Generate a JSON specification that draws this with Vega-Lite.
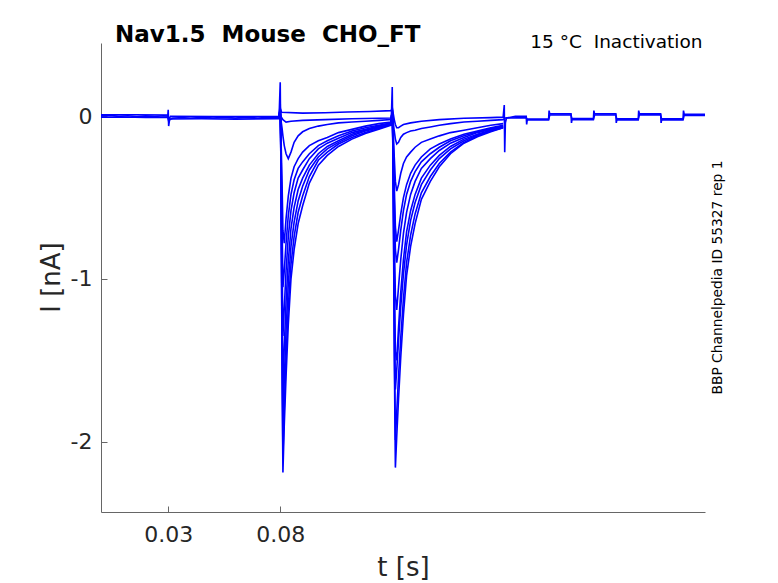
{
  "$schema": "https://vega.github.io/schema/vega-lite/v6.json",
  "autosize": "none",
  "width": 604,
  "height": 469,
  "padding": {"left": 101, "top": 43, "right": 73, "bottom": 71},
  "background": "white",
  "title": {
    "text": "Nav1.5\u00a0 Mouse\u00a0 CHO_FT",
    "anchor": "start",
    "frame": "group",
    "dx": 14,
    "offset": -33,
    "baseline": "alphabetic",
    "font": "DejaVu Sans",
    "fontSize": 23,
    "fontWeight": "bold",
    "color": "black"
  },
  "data": {
    "values": [
      {"s": "s1", "t": 0.0, "i": 0.003}, {"s": "s1", "t": 0.004, "i": 0.006}, {"s": "s1", "t": 0.008, "i": 0.0},
      {"s": "s1", "t": 0.012, "i": 0.004}, {"s": "s1", "t": 0.016, "i": -0.002}, {"s": "s1", "t": 0.02, "i": 0.003},
      {"s": "s1", "t": 0.024, "i": 0.0}, {"s": "s1", "t": 0.028, "i": 0.004}, {"s": "s1", "t": 0.0298, "i": 0.002},
      {"s": "s1", "t": 0.03, "i": 0.04}, {"s": "s1", "t": 0.0302, "i": -0.06}, {"s": "s1", "t": 0.0306, "i": -0.02},
      {"s": "s1", "t": 0.032, "i": -0.012}, {"s": "s1", "t": 0.036, "i": -0.008}, {"s": "s1", "t": 0.04, "i": -0.012},
      {"s": "s1", "t": 0.045, "i": -0.006}, {"s": "s1", "t": 0.05, "i": -0.01}, {"s": "s1", "t": 0.055, "i": -0.006},
      {"s": "s1", "t": 0.06, "i": -0.011}, {"s": "s1", "t": 0.065, "i": -0.005}, {"s": "s1", "t": 0.07, "i": -0.01},
      {"s": "s1", "t": 0.075, "i": -0.006}, {"s": "s1", "t": 0.0795, "i": -0.008},
      {"s": "s1", "t": 0.08, "i": 0.05}, {"s": "s1", "t": 0.0806, "i": 0.025}, {"s": "s1", "t": 0.09, "i": 0.02},
      {"s": "s1", "t": 0.1, "i": 0.022}, {"s": "s1", "t": 0.11, "i": 0.027}, {"s": "s1", "t": 0.12, "i": 0.03},
      {"s": "s1", "t": 0.1295, "i": 0.035},
      {"s": "s1", "t": 0.13, "i": 0.05}, {"s": "s1", "t": 0.1304, "i": 0.02}, {"s": "s1", "t": 0.1309, "i": -0.02},
      {"s": "s1", "t": 0.1314, "i": -0.05}, {"s": "s1", "t": 0.132, "i": -0.07}, {"s": "s1", "t": 0.1328, "i": -0.07},
      {"s": "s1", "t": 0.1338, "i": -0.06}, {"s": "s1", "t": 0.135, "i": -0.05}, {"s": "s1", "t": 0.1382, "i": -0.04},
      {"s": "s1", "t": 0.143, "i": -0.03}, {"s": "s1", "t": 0.151, "i": -0.02}, {"s": "s1", "t": 0.162, "i": -0.012},
      {"s": "s1", "t": 0.174, "i": -0.008}, {"s": "s1", "t": 0.1795, "i": -0.005},
      {"s": "s1", "t": 0.18, "i": 0.07}, {"s": "s1", "t": 0.1802, "i": -0.22}, {"s": "s1", "t": 0.1805, "i": -0.04},
      {"s": "s1", "t": 0.181, "i": -0.01}, {"s": "s1", "t": 0.185, "i": 0.0}, {"s": "s1", "t": 0.1898, "i": 0.0},
      {"s": "s1", "t": 0.19, "i": -0.05}, {"s": "s1", "t": 0.1903, "i": -0.016}, {"s": "s1", "t": 0.1998, "i": -0.016},
      {"s": "s1", "t": 0.2, "i": 0.035}, {"s": "s1", "t": 0.2003, "i": 0.015}, {"s": "s1", "t": 0.2098, "i": 0.015},
      {"s": "s1", "t": 0.21, "i": -0.04}, {"s": "s1", "t": 0.2103, "i": -0.013}, {"s": "s1", "t": 0.2198, "i": -0.013},
      {"s": "s1", "t": 0.22, "i": 0.035}, {"s": "s1", "t": 0.2203, "i": 0.015}, {"s": "s1", "t": 0.2298, "i": 0.015},
      {"s": "s1", "t": 0.23, "i": -0.04}, {"s": "s1", "t": 0.2303, "i": -0.015}, {"s": "s1", "t": 0.2398, "i": -0.015},
      {"s": "s1", "t": 0.24, "i": 0.035}, {"s": "s1", "t": 0.2403, "i": 0.016}, {"s": "s1", "t": 0.2498, "i": 0.016},
      {"s": "s1", "t": 0.25, "i": -0.04}, {"s": "s1", "t": 0.2503, "i": -0.015}, {"s": "s1", "t": 0.2598, "i": -0.015},
      {"s": "s1", "t": 0.26, "i": 0.035}, {"s": "s1", "t": 0.2603, "i": 0.013}, {"s": "s1", "t": 0.2696, "i": 0.013},

      {"s": "s2", "t": 0.0, "i": -0.006}, {"s": "s2", "t": 0.01, "i": -0.004}, {"s": "s2", "t": 0.02, "i": -0.007},
      {"s": "s2", "t": 0.0298, "i": -0.005}, {"s": "s2", "t": 0.0302, "i": -0.03}, {"s": "s2", "t": 0.031, "i": -0.016},
      {"s": "s2", "t": 0.045, "i": -0.015}, {"s": "s2", "t": 0.06, "i": -0.017}, {"s": "s2", "t": 0.0795, "i": -0.014},
      {"s": "s2", "t": 0.08, "i": 0.03}, {"s": "s2", "t": 0.0803, "i": 0.0}, {"s": "s2", "t": 0.0812, "i": -0.02},
      {"s": "s2", "t": 0.0826, "i": -0.035}, {"s": "s2", "t": 0.0848, "i": -0.03}, {"s": "s2", "t": 0.09, "i": -0.025},
      {"s": "s2", "t": 0.1, "i": -0.02}, {"s": "s2", "t": 0.112, "i": -0.015}, {"s": "s2", "t": 0.1295, "i": -0.01},
      {"s": "s2", "t": 0.13, "i": 0.03}, {"s": "s2", "t": 0.1304, "i": -0.03}, {"s": "s2", "t": 0.1309, "i": -0.09},
      {"s": "s2", "t": 0.1314, "i": -0.14}, {"s": "s2", "t": 0.132, "i": -0.17}, {"s": "s2", "t": 0.1328, "i": -0.16},
      {"s": "s2", "t": 0.1338, "i": -0.13}, {"s": "s2", "t": 0.135, "i": -0.11}, {"s": "s2", "t": 0.1364, "i": -0.1},
      {"s": "s2", "t": 0.1382, "i": -0.09}, {"s": "s2", "t": 0.1402, "i": -0.085}, {"s": "s2", "t": 0.143, "i": -0.075},
      {"s": "s2", "t": 0.147, "i": -0.065}, {"s": "s2", "t": 0.151, "i": -0.055}, {"s": "s2", "t": 0.156, "i": -0.045},
      {"s": "s2", "t": 0.162, "i": -0.035}, {"s": "s2", "t": 0.168, "i": -0.03}, {"s": "s2", "t": 0.174, "i": -0.025},
      {"s": "s2", "t": 0.1795, "i": -0.02}, {"s": "s2", "t": 0.1805, "i": -0.01}, {"s": "s2", "t": 0.1898, "i": -0.008},
      {"s": "s2", "t": 0.1903, "i": -0.022}, {"s": "s2", "t": 0.1998, "i": -0.022}, {"s": "s2", "t": 0.2003, "i": 0.008},
      {"s": "s2", "t": 0.2098, "i": 0.008}, {"s": "s2", "t": 0.2103, "i": -0.02}, {"s": "s2", "t": 0.2198, "i": -0.02},
      {"s": "s2", "t": 0.2203, "i": 0.008}, {"s": "s2", "t": 0.2298, "i": 0.008}, {"s": "s2", "t": 0.2303, "i": -0.022},
      {"s": "s2", "t": 0.2398, "i": -0.022}, {"s": "s2", "t": 0.2403, "i": 0.009}, {"s": "s2", "t": 0.2498, "i": 0.009},
      {"s": "s2", "t": 0.2503, "i": -0.022}, {"s": "s2", "t": 0.2598, "i": -0.022}, {"s": "s2", "t": 0.2603, "i": 0.006},
      {"s": "s2", "t": 0.2696, "i": 0.006},

      {"s": "s3", "t": 0.0, "i": 0.009}, {"s": "s3", "t": 0.015, "i": 0.01}, {"s": "s3", "t": 0.0298, "i": 0.008},
      {"s": "s3", "t": 0.0302, "i": -0.02}, {"s": "s3", "t": 0.031, "i": 0.0}, {"s": "s3", "t": 0.05, "i": -0.002},
      {"s": "s3", "t": 0.0795, "i": 0.0},
      {"s": "s3", "t": 0.08, "i": 0.03}, {"s": "s3", "t": 0.0803, "i": -0.02}, {"s": "s3", "t": 0.0808, "i": -0.07},
      {"s": "s3", "t": 0.0812, "i": -0.12}, {"s": "s3", "t": 0.0818, "i": -0.18}, {"s": "s3", "t": 0.0826, "i": -0.23},
      {"s": "s3", "t": 0.0836, "i": -0.26}, {"s": "s3", "t": 0.0848, "i": -0.22}, {"s": "s3", "t": 0.0862, "i": -0.16},
      {"s": "s3", "t": 0.088, "i": -0.12}, {"s": "s3", "t": 0.09, "i": -0.095}, {"s": "s3", "t": 0.093, "i": -0.075},
      {"s": "s3", "t": 0.097, "i": -0.06}, {"s": "s3", "t": 0.101, "i": -0.05}, {"s": "s3", "t": 0.106, "i": -0.04},
      {"s": "s3", "t": 0.112, "i": -0.035}, {"s": "s3", "t": 0.118, "i": -0.03}, {"s": "s3", "t": 0.124, "i": -0.025},
      {"s": "s3", "t": 0.1295, "i": -0.02},
      {"s": "s3", "t": 0.13, "i": 0.03}, {"s": "s3", "t": 0.1304, "i": -0.08}, {"s": "s3", "t": 0.1309, "i": -0.25},
      {"s": "s3", "t": 0.1314, "i": -0.4}, {"s": "s3", "t": 0.132, "i": -0.46}, {"s": "s3", "t": 0.1328, "i": -0.42},
      {"s": "s3", "t": 0.1338, "i": -0.35}, {"s": "s3", "t": 0.135, "i": -0.29}, {"s": "s3", "t": 0.1364, "i": -0.25},
      {"s": "s3", "t": 0.1382, "i": -0.22}, {"s": "s3", "t": 0.1402, "i": -0.19}, {"s": "s3", "t": 0.143, "i": -0.16},
      {"s": "s3", "t": 0.147, "i": -0.14}, {"s": "s3", "t": 0.151, "i": -0.12}, {"s": "s3", "t": 0.156, "i": -0.1},
      {"s": "s3", "t": 0.162, "i": -0.085}, {"s": "s3", "t": 0.168, "i": -0.07}, {"s": "s3", "t": 0.174, "i": -0.055},
      {"s": "s3", "t": 0.1795, "i": -0.045},

      {"s": "s4", "t": 0.0795, "i": 0.0}, {"s": "s4", "t": 0.08, "i": 0.04}, {"s": "s4", "t": 0.0803, "i": -0.1},
      {"s": "s4", "t": 0.0808, "i": -0.4}, {"s": "s4", "t": 0.0812, "i": -0.7}, {"s": "s4", "t": 0.0818, "i": -0.78},
      {"s": "s4", "t": 0.0826, "i": -0.63}, {"s": "s4", "t": 0.0836, "i": -0.49}, {"s": "s4", "t": 0.0848, "i": -0.38},
      {"s": "s4", "t": 0.0862, "i": -0.31}, {"s": "s4", "t": 0.088, "i": -0.26}, {"s": "s4", "t": 0.09, "i": -0.22},
      {"s": "s4", "t": 0.093, "i": -0.18}, {"s": "s4", "t": 0.097, "i": -0.15}, {"s": "s4", "t": 0.101, "i": -0.13},
      {"s": "s4", "t": 0.106, "i": -0.1}, {"s": "s4", "t": 0.112, "i": -0.08}, {"s": "s4", "t": 0.118, "i": -0.06},
      {"s": "s4", "t": 0.124, "i": -0.045}, {"s": "s4", "t": 0.1295, "i": -0.035},
      {"s": "s4", "t": 0.13, "i": 0.04}, {"s": "s4", "t": 0.1304, "i": -0.12}, {"s": "s4", "t": 0.1309, "i": -0.42},
      {"s": "s4", "t": 0.1314, "i": -0.68}, {"s": "s4", "t": 0.132, "i": -0.77}, {"s": "s4", "t": 0.1328, "i": -0.7},
      {"s": "s4", "t": 0.1338, "i": -0.6}, {"s": "s4", "t": 0.135, "i": -0.5}, {"s": "s4", "t": 0.1364, "i": -0.42},
      {"s": "s4", "t": 0.1382, "i": -0.35}, {"s": "s4", "t": 0.1402, "i": -0.3}, {"s": "s4", "t": 0.143, "i": -0.25},
      {"s": "s4", "t": 0.147, "i": -0.2}, {"s": "s4", "t": 0.151, "i": -0.17}, {"s": "s4", "t": 0.156, "i": -0.14},
      {"s": "s4", "t": 0.162, "i": -0.11}, {"s": "s4", "t": 0.168, "i": -0.09}, {"s": "s4", "t": 0.174, "i": -0.07},
      {"s": "s4", "t": 0.1795, "i": -0.055},

      {"s": "s5", "t": 0.0795, "i": 0.0}, {"s": "s5", "t": 0.08, "i": 0.04}, {"s": "s5", "t": 0.0803, "i": -0.14},
      {"s": "s5", "t": 0.0808, "i": -0.62}, {"s": "s5", "t": 0.0812, "i": -1.05}, {"s": "s5", "t": 0.0818, "i": -0.95},
      {"s": "s5", "t": 0.0826, "i": -0.78}, {"s": "s5", "t": 0.0836, "i": -0.61}, {"s": "s5", "t": 0.0848, "i": -0.48},
      {"s": "s5", "t": 0.0862, "i": -0.39}, {"s": "s5", "t": 0.088, "i": -0.32}, {"s": "s5", "t": 0.09, "i": -0.28},
      {"s": "s5", "t": 0.093, "i": -0.23}, {"s": "s5", "t": 0.097, "i": -0.18}, {"s": "s5", "t": 0.101, "i": -0.15},
      {"s": "s5", "t": 0.106, "i": -0.12}, {"s": "s5", "t": 0.112, "i": -0.09}, {"s": "s5", "t": 0.118, "i": -0.07},
      {"s": "s5", "t": 0.124, "i": -0.055}, {"s": "s5", "t": 0.1295, "i": -0.04},
      {"s": "s5", "t": 0.13, "i": 0.04}, {"s": "s5", "t": 0.1304, "i": -0.15}, {"s": "s5", "t": 0.1309, "i": -0.52},
      {"s": "s5", "t": 0.1314, "i": -0.82}, {"s": "s5", "t": 0.132, "i": -0.9}, {"s": "s5", "t": 0.1328, "i": -0.82},
      {"s": "s5", "t": 0.1338, "i": -0.7}, {"s": "s5", "t": 0.135, "i": -0.58}, {"s": "s5", "t": 0.1364, "i": -0.48},
      {"s": "s5", "t": 0.1382, "i": -0.4}, {"s": "s5", "t": 0.1402, "i": -0.34}, {"s": "s5", "t": 0.143, "i": -0.28},
      {"s": "s5", "t": 0.147, "i": -0.23}, {"s": "s5", "t": 0.151, "i": -0.19}, {"s": "s5", "t": 0.156, "i": -0.15},
      {"s": "s5", "t": 0.162, "i": -0.12}, {"s": "s5", "t": 0.168, "i": -0.095}, {"s": "s5", "t": 0.174, "i": -0.075},
      {"s": "s5", "t": 0.1795, "i": -0.06},

      {"s": "s6", "t": 0.0795, "i": 0.0}, {"s": "s6", "t": 0.08, "i": 0.05}, {"s": "s6", "t": 0.0803, "i": -0.18},
      {"s": "s6", "t": 0.0808, "i": -0.85}, {"s": "s6", "t": 0.0812, "i": -1.35}, {"s": "s6", "t": 0.0818, "i": -1.18},
      {"s": "s6", "t": 0.0826, "i": -0.95}, {"s": "s6", "t": 0.0836, "i": -0.74}, {"s": "s6", "t": 0.0848, "i": -0.58},
      {"s": "s6", "t": 0.0862, "i": -0.47}, {"s": "s6", "t": 0.088, "i": -0.38}, {"s": "s6", "t": 0.09, "i": -0.33},
      {"s": "s6", "t": 0.093, "i": -0.26}, {"s": "s6", "t": 0.097, "i": -0.2}, {"s": "s6", "t": 0.101, "i": -0.165},
      {"s": "s6", "t": 0.106, "i": -0.135}, {"s": "s6", "t": 0.112, "i": -0.1}, {"s": "s6", "t": 0.118, "i": -0.08},
      {"s": "s6", "t": 0.124, "i": -0.06}, {"s": "s6", "t": 0.1295, "i": -0.045},
      {"s": "s6", "t": 0.13, "i": 0.04}, {"s": "s6", "t": 0.1304, "i": -0.2}, {"s": "s6", "t": 0.1309, "i": -0.72},
      {"s": "s6", "t": 0.1314, "i": -1.1}, {"s": "s6", "t": 0.132, "i": -1.19}, {"s": "s6", "t": 0.1328, "i": -1.05},
      {"s": "s6", "t": 0.1338, "i": -0.88}, {"s": "s6", "t": 0.135, "i": -0.72}, {"s": "s6", "t": 0.1364, "i": -0.59},
      {"s": "s6", "t": 0.1382, "i": -0.48}, {"s": "s6", "t": 0.1402, "i": -0.4}, {"s": "s6", "t": 0.143, "i": -0.32},
      {"s": "s6", "t": 0.147, "i": -0.26}, {"s": "s6", "t": 0.151, "i": -0.21}, {"s": "s6", "t": 0.156, "i": -0.165},
      {"s": "s6", "t": 0.162, "i": -0.13}, {"s": "s6", "t": 0.168, "i": -0.1}, {"s": "s6", "t": 0.174, "i": -0.08},
      {"s": "s6", "t": 0.1795, "i": -0.06},

      {"s": "s7", "t": 0.0795, "i": 0.0}, {"s": "s7", "t": 0.08, "i": 0.05}, {"s": "s7", "t": 0.0803, "i": -0.22},
      {"s": "s7", "t": 0.0808, "i": -1.05}, {"s": "s7", "t": 0.0812, "i": -1.65}, {"s": "s7", "t": 0.0818, "i": -1.42},
      {"s": "s7", "t": 0.0826, "i": -1.14}, {"s": "s7", "t": 0.0836, "i": -0.89}, {"s": "s7", "t": 0.0848, "i": -0.69},
      {"s": "s7", "t": 0.0862, "i": -0.56}, {"s": "s7", "t": 0.088, "i": -0.45}, {"s": "s7", "t": 0.09, "i": -0.38},
      {"s": "s7", "t": 0.093, "i": -0.3}, {"s": "s7", "t": 0.097, "i": -0.23}, {"s": "s7", "t": 0.101, "i": -0.185},
      {"s": "s7", "t": 0.106, "i": -0.15}, {"s": "s7", "t": 0.112, "i": -0.11}, {"s": "s7", "t": 0.118, "i": -0.085},
      {"s": "s7", "t": 0.124, "i": -0.065}, {"s": "s7", "t": 0.1295, "i": -0.045},
      {"s": "s7", "t": 0.13, "i": 0.05}, {"s": "s7", "t": 0.1304, "i": -0.25}, {"s": "s7", "t": 0.1309, "i": -0.95},
      {"s": "s7", "t": 0.1314, "i": -1.45}, {"s": "s7", "t": 0.132, "i": -1.5}, {"s": "s7", "t": 0.1328, "i": -1.3},
      {"s": "s7", "t": 0.1338, "i": -1.08}, {"s": "s7", "t": 0.135, "i": -0.88}, {"s": "s7", "t": 0.1364, "i": -0.71},
      {"s": "s7", "t": 0.1382, "i": -0.58}, {"s": "s7", "t": 0.1402, "i": -0.48}, {"s": "s7", "t": 0.143, "i": -0.38},
      {"s": "s7", "t": 0.147, "i": -0.3}, {"s": "s7", "t": 0.151, "i": -0.24}, {"s": "s7", "t": 0.156, "i": -0.185},
      {"s": "s7", "t": 0.162, "i": -0.14}, {"s": "s7", "t": 0.168, "i": -0.11}, {"s": "s7", "t": 0.174, "i": -0.085},
      {"s": "s7", "t": 0.1795, "i": -0.065},

      {"s": "s8", "t": 0.0795, "i": 0.0}, {"s": "s8", "t": 0.08, "i": 0.06}, {"s": "s8", "t": 0.0803, "i": -0.25},
      {"s": "s8", "t": 0.0808, "i": -1.25}, {"s": "s8", "t": 0.0812, "i": -1.9}, {"s": "s8", "t": 0.0818, "i": -1.62},
      {"s": "s8", "t": 0.0826, "i": -1.32}, {"s": "s8", "t": 0.0836, "i": -1.03}, {"s": "s8", "t": 0.0848, "i": -0.8},
      {"s": "s8", "t": 0.0862, "i": -0.65}, {"s": "s8", "t": 0.088, "i": -0.52}, {"s": "s8", "t": 0.09, "i": -0.43},
      {"s": "s8", "t": 0.093, "i": -0.33}, {"s": "s8", "t": 0.097, "i": -0.25}, {"s": "s8", "t": 0.101, "i": -0.2},
      {"s": "s8", "t": 0.106, "i": -0.16}, {"s": "s8", "t": 0.112, "i": -0.12}, {"s": "s8", "t": 0.118, "i": -0.09},
      {"s": "s8", "t": 0.124, "i": -0.07}, {"s": "s8", "t": 0.1295, "i": -0.05},
      {"s": "s8", "t": 0.13, "i": 0.05}, {"s": "s8", "t": 0.1304, "i": -0.28}, {"s": "s8", "t": 0.1309, "i": -1.1},
      {"s": "s8", "t": 0.1314, "i": -1.68}, {"s": "s8", "t": 0.132, "i": -1.56}, {"s": "s8", "t": 0.1328, "i": -1.38},
      {"s": "s8", "t": 0.1338, "i": -1.17}, {"s": "s8", "t": 0.135, "i": -0.97}, {"s": "s8", "t": 0.1364, "i": -0.79},
      {"s": "s8", "t": 0.1382, "i": -0.64}, {"s": "s8", "t": 0.1402, "i": -0.53}, {"s": "s8", "t": 0.143, "i": -0.42},
      {"s": "s8", "t": 0.147, "i": -0.33}, {"s": "s8", "t": 0.151, "i": -0.26}, {"s": "s8", "t": 0.156, "i": -0.2},
      {"s": "s8", "t": 0.162, "i": -0.15}, {"s": "s8", "t": 0.168, "i": -0.115}, {"s": "s8", "t": 0.174, "i": -0.09},
      {"s": "s8", "t": 0.1795, "i": -0.065},

      {"s": "s9", "t": 0.0795, "i": 0.0}, {"s": "s9", "t": 0.08, "i": 0.08}, {"s": "s9", "t": 0.0803, "i": -0.28},
      {"s": "s9", "t": 0.0808, "i": -1.42}, {"s": "s9", "t": 0.0812, "i": -2.09}, {"s": "s9", "t": 0.0818, "i": -1.8},
      {"s": "s9", "t": 0.0826, "i": -1.48}, {"s": "s9", "t": 0.0836, "i": -1.17}, {"s": "s9", "t": 0.0848, "i": -0.91},
      {"s": "s9", "t": 0.0862, "i": -0.74}, {"s": "s9", "t": 0.088, "i": -0.59}, {"s": "s9", "t": 0.09, "i": -0.49},
      {"s": "s9", "t": 0.093, "i": -0.37}, {"s": "s9", "t": 0.097, "i": -0.27}, {"s": "s9", "t": 0.101, "i": -0.22},
      {"s": "s9", "t": 0.106, "i": -0.17}, {"s": "s9", "t": 0.112, "i": -0.13}, {"s": "s9", "t": 0.118, "i": -0.1},
      {"s": "s9", "t": 0.124, "i": -0.075}, {"s": "s9", "t": 0.1295, "i": -0.05},
      {"s": "s9", "t": 0.13, "i": 0.06}, {"s": "s9", "t": 0.1304, "i": -0.32}, {"s": "s9", "t": 0.1309, "i": -1.33},
      {"s": "s9", "t": 0.1314, "i": -1.99}, {"s": "s9", "t": 0.132, "i": -1.82}, {"s": "s9", "t": 0.1328, "i": -1.6},
      {"s": "s9", "t": 0.1338, "i": -1.36}, {"s": "s9", "t": 0.135, "i": -1.12}, {"s": "s9", "t": 0.1364, "i": -0.9},
      {"s": "s9", "t": 0.1382, "i": -0.73}, {"s": "s9", "t": 0.1402, "i": -0.6}, {"s": "s9", "t": 0.143, "i": -0.47},
      {"s": "s9", "t": 0.147, "i": -0.37}, {"s": "s9", "t": 0.151, "i": -0.29}, {"s": "s9", "t": 0.156, "i": -0.22},
      {"s": "s9", "t": 0.162, "i": -0.16}, {"s": "s9", "t": 0.168, "i": -0.12}, {"s": "s9", "t": 0.174, "i": -0.09},
      {"s": "s9", "t": 0.1795, "i": -0.07},

      {"s": "s10", "t": 0.0795, "i": 0.0}, {"s": "s10", "t": 0.08, "i": 0.21}, {"s": "s10", "t": 0.0803, "i": -0.3},
      {"s": "s10", "t": 0.0808, "i": -1.5}, {"s": "s10", "t": 0.0812, "i": -2.19}, {"s": "s10", "t": 0.0818, "i": -1.9},
      {"s": "s10", "t": 0.0826, "i": -1.6}, {"s": "s10", "t": 0.0836, "i": -1.28}, {"s": "s10", "t": 0.0848, "i": -1.0},
      {"s": "s10", "t": 0.0862, "i": -0.82}, {"s": "s10", "t": 0.088, "i": -0.66}, {"s": "s10", "t": 0.09, "i": -0.55},
      {"s": "s10", "t": 0.093, "i": -0.41}, {"s": "s10", "t": 0.097, "i": -0.3}, {"s": "s10", "t": 0.101, "i": -0.24},
      {"s": "s10", "t": 0.106, "i": -0.185}, {"s": "s10", "t": 0.112, "i": -0.14}, {"s": "s10", "t": 0.118, "i": -0.105},
      {"s": "s10", "t": 0.124, "i": -0.08}, {"s": "s10", "t": 0.1295, "i": -0.055},
      {"s": "s10", "t": 0.13, "i": 0.18}, {"s": "s10", "t": 0.1304, "i": -0.35}, {"s": "s10", "t": 0.1309, "i": -1.45},
      {"s": "s10", "t": 0.1314, "i": -2.16}, {"s": "s10", "t": 0.132, "i": -1.97}, {"s": "s10", "t": 0.1328, "i": -1.74},
      {"s": "s10", "t": 0.1338, "i": -1.48}, {"s": "s10", "t": 0.135, "i": -1.22}, {"s": "s10", "t": 0.1364, "i": -0.98},
      {"s": "s10", "t": 0.1382, "i": -0.8}, {"s": "s10", "t": 0.1402, "i": -0.66}, {"s": "s10", "t": 0.143, "i": -0.51},
      {"s": "s10", "t": 0.147, "i": -0.4}, {"s": "s10", "t": 0.151, "i": -0.31}, {"s": "s10", "t": 0.156, "i": -0.23},
      {"s": "s10", "t": 0.162, "i": -0.165}, {"s": "s10", "t": 0.168, "i": -0.125}, {"s": "s10", "t": 0.174, "i": -0.095},
      {"s": "s10", "t": 0.1795, "i": -0.07}
    ]
  },
  "resolve": {"axis": {"x": "independent", "y": "independent"}},
  "layer": [
    {
      "transform": [{"filter": "datum.s != 's1'"}],
      "mark": {"type": "line", "color": "#0000ff", "strokeWidth": 1.6, "clip": true},
      "encoding": {
        "x": {
          "field": "t",
          "type": "quantitative",
          "scale": {"domain": [0, 0.2696], "nice": false, "zero": false},
          "axis": {
            "values": [0.03, 0.08],
            "format": ".2f",
            "title": "t [s]",
            "tickSize": -6,
            "labelPadding": 18,
            "labelBaseline": "top",
            "titleX": 302,
            "titleY": 63,
            "titleAlign": "center",
            "titleBaseline": "alphabetic"
          }
        },
        "y": {
          "field": "i",
          "type": "quantitative",
          "scale": {"domain": [-2.433, 0.451], "nice": false, "zero": false},
          "axis": {
            "values": [-2, -1, 0],
            "labelExpr": "'' + datum.value",
            "title": "I [nA]",
            "tickSize": -6,
            "labelPadding": 15,
            "titleAngle": 270,
            "titleX": -42,
            "titleY": 234,
            "titleAlign": "center",
            "titleBaseline": "alphabetic"
          }
        },
        "detail": {"field": "s"}
      }
    },
    {
      "transform": [{"filter": "datum.s == 's1'"}],
      "mark": {"type": "line", "color": "#0000ff", "strokeWidth": 1.6, "clip": true},
      "encoding": {
        "x": {
          "field": "t",
          "type": "quantitative",
          "axis": {
            "orient": "top",
            "domain": false,
            "ticks": false,
            "labels": false,
            "title": "15 °C\u00a0 Inactivation",
            "titleFontSize": 18.5,
            "titleColor": "black",
            "titleX": 601,
            "titleY": 4,
            "titleAlign": "right",
            "titleBaseline": "alphabetic"
          }
        },
        "y": {
          "field": "i",
          "type": "quantitative",
          "axis": {
            "orient": "right",
            "domain": false,
            "ticks": false,
            "labels": false,
            "title": "BBP Channelpedia ID 55327 rep 1",
            "titleFontSize": 13.8,
            "titleColor": "black",
            "titleAngle": 270,
            "titleX": 12,
            "titleY": 234,
            "titleAlign": "center",
            "titleBaseline": "middle"
          }
        }
      }
    }
  ],
  "config": {
    "view": {"stroke": null},
    "axis": {
      "grid": false,
      "domainColor": "#666666",
      "tickColor": "#666666",
      "labelColor": "#262626",
      "titleColor": "#262626",
      "labelFont": "DejaVu Sans",
      "titleFont": "DejaVu Sans",
      "labelFontSize": 22,
      "titleFontSize": 26,
      "titleFontWeight": "normal"
    }
  }
}
